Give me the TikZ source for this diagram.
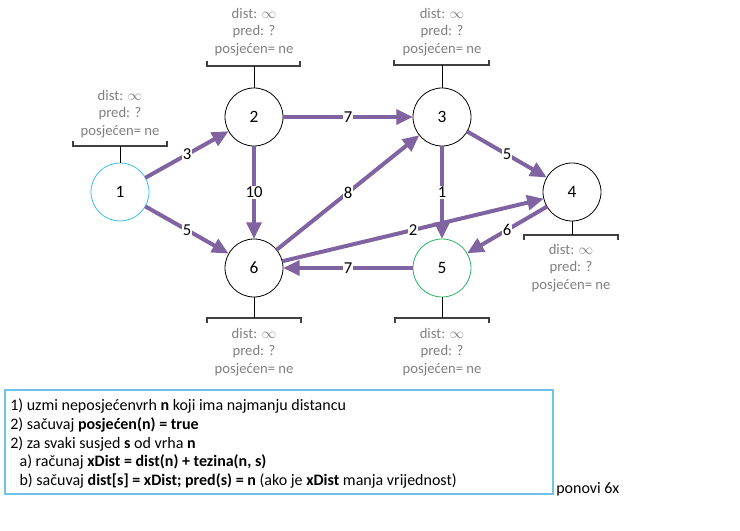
\documentclass[tikz,border=0pt]{standalone}
\usepackage{fontspec}
\setmainfont{Carlito}
\usetikzlibrary{arrows.meta}
\definecolor{edgepurple}{RGB}{128,100,162}
\definecolor{infogray}{RGB}{127,127,127}
\definecolor{startblue}{RGB}{60,190,240}
\definecolor{endgreen}{RGB}{40,180,100}
\definecolor{boxblue}{RGB}{110,195,230}
\newcommand\infotxt{dist: $\infty$\\pred: ?\\posjećen= ne}
\begin{document}
\begin{tikzpicture}[x=0.75pt,y=-0.75pt,
  vertex/.style={circle, draw=black, line width=0.6pt, minimum size=43.5pt, inner sep=0pt, outer sep=0pt, font=\fontsize{13}{15}\selectfont},
  edge/.style={draw=edgepurple, line width=3pt, -{Triangle[length=12.5pt,width=11pt]}},
  wlabel/.style={fill=white, inner sep=0.5pt, font=\fontsize{12.5}{14}\selectfont, text=black},
  info/.style={align=center, text=infogray, font=\fontsize{11}{13.2}\selectfont},
  bracket/.style={draw=black!75, line width=0.9pt},
  stem/.style={draw=black, line width=0.6pt},
  algotext/.style={font=\fontsize{12}{13.9}\selectfont}]
\useasboundingbox (0,0) rectangle (740,531);
% vertices
\node[vertex, draw=startblue] (n1) at (120,192) {1};
\node[vertex] (n2) at (254,117) {2};
\node[vertex] (n3) at (442,117) {3};
\node[vertex] (n4) at (572,192) {4};
\node[vertex, draw=endgreen] (n5) at (442,268) {5};
\node[vertex] (n6) at (254,268) {6};
% edges
\draw[edge] (n1) -- node[wlabel]{3} (n2);
\draw[edge] (n1) -- node[wlabel]{5} (n6);
\draw[edge] (n2) -- node[wlabel]{7} (n3);
\draw[edge] (n2) -- node[wlabel]{10} (n6);
\draw[edge] (n6) -- node[wlabel]{8} (n3);
\draw[edge] (n3) -- node[wlabel]{5} (n4);
\draw[edge] (n3) -- node[wlabel]{1} (n5);
\draw[edge] (n6) -- node[wlabel]{2} (n4);
\draw[edge] (n4) -- node[wlabel]{6} (n5);
\draw[edge] (n5) -- node[wlabel]{7} (n6);
% info brackets (top)
\coordinate (b1) at (120,146);
\draw[bracket] (73,141) -- (73,146) -- (167,146) -- (167,141);
\draw[stem] (n1) -- (b1);
\node[info] (i1) at (120,114) {\infotxt};
\coordinate (b2) at (254,66);
\draw[bracket] (207,61) -- (207,66) -- (300,66) -- (300,61);
\draw[stem] (n2) -- (b2);
\node[info] (i2) at (254,32) {\infotxt};
\coordinate (b3) at (442,65);
\draw[bracket] (394,60) -- (394,65) -- (489,65) -- (489,60);
\draw[stem] (n3) -- (b3);
\node[info] (i3) at (442,32) {\infotxt};
% info brackets (bottom)
\coordinate (b4) at (572,235);
\draw[bracket] (524,240) -- (524,235) -- (618,235) -- (618,240);
\draw[stem] (n4) -- (b4);
\node[info] (i4) at (571,268) {\infotxt};
\coordinate (b6) at (254,318);
\draw[bracket] (207,323) -- (207,318) -- (301,318) -- (301,323);
\draw[stem] (n6) -- (b6);
\node[info] (i6) at (254,352) {\infotxt};
\coordinate (b5) at (442,318);
\draw[bracket] (395,323) -- (395,318) -- (489,318) -- (489,323);
\draw[stem] (n5) -- (b5);
\node[info] (i5) at (442,352) {\infotxt};
% algorithm box
\draw[boxblue, line width=0.8pt] (5,390) rectangle (553,494);
\node[algotext, anchor=north west, align=left, inner sep=0pt] (algo) at (10,399) {%
1) uzmi neposjećenvrh \textbf{n} koji ima najmanju distancu\\
2) sačuvaj \textbf{posjećen(n) = true}\\
2) za svaki susjed \textbf{s} od vrha \textbf{n}\\
\hspace*{7pt}a) računaj \textbf{xDist = dist(n) + tezina(n, s)}\\
\hspace*{7pt}b) sačuvaj \textbf{dist[s] = xDist; pred(s) = n} (ako je \textbf{xDist} manja vrijednost)};
\node[algotext, anchor=west, inner sep=0pt] (rep) at (556,489) {ponovi 6x};
\end{tikzpicture}
\end{document}
